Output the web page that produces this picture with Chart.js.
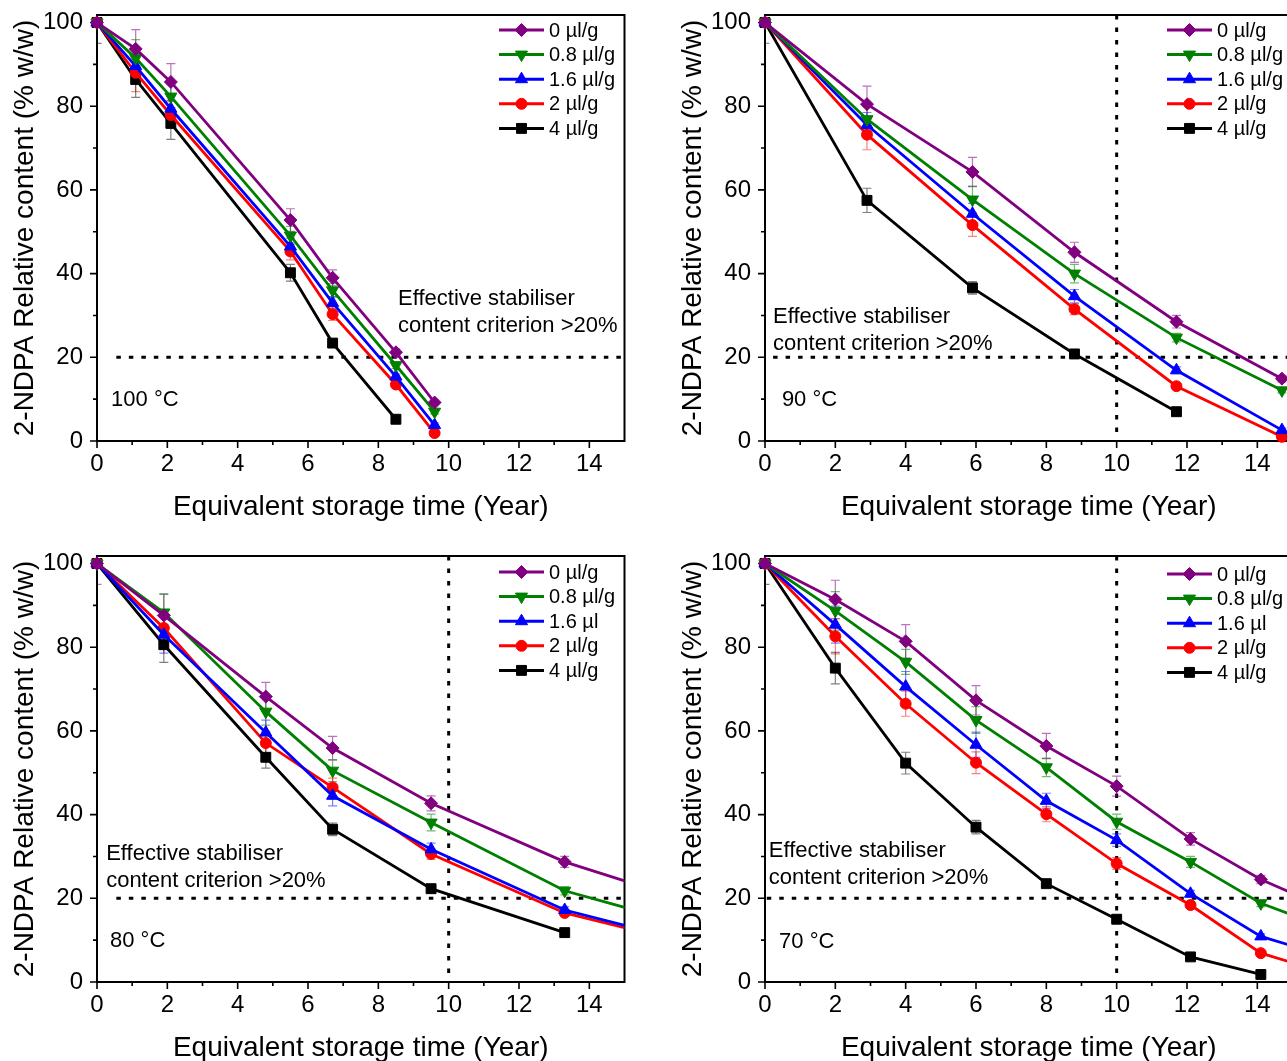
<!DOCTYPE html>
<html>
<head>
<meta charset="utf-8">
<script src="https://cdn.jsdelivr.net/npm/chart.js@4.4.1/dist/chart.umd.min.js"></script>
<style>
html, body { margin: 0; padding: 0; width: 1287px; height: 1061px; overflow: hidden; background: #fff; }
.panel { position: absolute; width: 640px; height: 530px; }
</style>
</head>
<body>
<div class="panel" style="left:0;top:0"><canvas id="g100" width="640" height="530"></canvas></div>
<div class="panel" style="left:668px;top:0"><canvas id="g90" width="640" height="530"></canvas></div>
<div class="panel" style="left:0;top:541px"><canvas id="g80" width="640" height="530"></canvas></div>
<div class="panel" style="left:668px;top:541px"><canvas id="g70" width="640" height="530"></canvas></div>
<script>
// tick labels
const xTickValues = [0, 2, 4, 6, 8, 10, 12, 14];
const yTickValues = [0, 20, 40, 60, 80, 100];
const labelsA = ['0 µl/g', '0.8 µl/g', '1.6 µl/g', '2 µl/g', '4 µl/g'];
const labelsB = ['0 µl/g', '0.8 µl/g', '1.6 µl', '2 µl/g', '4 µl/g'];

// 100 °C
const t100 = [0, 1.1, 2.1, 5.5, 6.7, 8.5, 9.6];
const c100_0 = [100, 93.7, 85.8, 52.8, 39.0, 21.2, 9.2];
const c100_08 = [100, 91.5, 82.3, 49.1, 36.0, 18.1, 7.0];
const c100_16 = [100, 89.6, 79.4, 46.5, 33.0, 15.4, 3.8];
const c100_2 = [100, 88.0, 77.9, 45.3, 30.3, 13.5, 1.9];
const c100_4 = [100, 86.4, 75.9, 40.2, 23.4, 5.2, null];
const e100_0 = [0, 4.6, 4.4, 2.7, 1.9, 0.8, 0.6];
const e100_08 = [0, 4.4, 3.0, 2.2, 1.6, 0.8, 0.6];
const e100_16 = [0, 3.0, 3.0, 2.0, 1.5, 0.6, 0.5];
const e100_2 = [0, 4.5, 3.2, 2.0, 1.5, 0.6, 0.5];
const e100_4 = [5, 4.3, 3.8, 2.0, 1.0, 0.5, 0];

// 90 °C
const t90 = [0, 2.9, 5.9, 8.8, 11.7, 14.7];
const c90_0 = [100, 80.5, 64.3, 45.1, 28.5, 14.9];
const c90_08 = [100, 76.9, 57.7, 40.0, 24.7, 12.1];
const c90_16 = [100, 75.5, 54.3, 34.6, 16.9, 2.6];
const c90_2 = [100, 73.2, 51.6, 31.5, 13.1, 1.0];
const c90_4 = [100, 57.5, 36.6, 20.8, 7.0, null];
const e90_0 = [5, 4.3, 3.5, 2.4, 1.5, 0.8];
const e90_08 = [0, 3.0, 3.2, 2.2, 1.0, 0.6];
const e90_16 = [0, 3.0, 2.5, 1.6, 0.8, 0.5];
const e90_2 = [0, 3.6, 2.7, 1.3, 0.8, 0.5];
const e90_4 = [0, 2.9, 1.5, 0.6, 0.5, 0];

// 80 °C (last column lies past the axis end)
const t80 = [0, 1.9, 4.8, 6.7, 9.5, 13.3, 17.1];
const c80_0 = [100, 87.6, 68.2, 55.9, 42.7, 28.7, 18.6];
const c80_08 = [100, 88.3, 64.6, 50.5, 38.1, 21.8, 12.9];
const c80_16 = [100, 83.0, 59.6, 44.5, 31.7, 17.2, 9.0];
const c80_2 = [100, 84.6, 57.1, 46.5, 30.6, 16.5, 8.6];
const c80_4 = [100, 80.6, 53.7, 36.5, 22.3, 11.8, null];
const e80_0 = [5, 5.0, 3.4, 2.8, 1.8, 1.3, 0];
const e80_08 = [0, 4.5, 3.2, 2.6, 2.0, 1.0, 0];
const e80_16 = [0, 4.4, 3.0, 2.4, 1.5, 0.8, 0];
const e80_2 = [0, 3.5, 2.8, 2.2, 1.3, 0.8, 0];
const e80_4 = [0, 4.2, 2.6, 1.5, 0.6, 0.5, 0];

// 70 °C (last column lies past the axis end)
const t70 = [0, 2.0, 4.0, 6.0, 8.0, 10.0, 12.1, 14.1, 16.1];
const c70_0 = [100, 91.4, 81.4, 67.3, 56.4, 46.8, 34.2, 24.5, 17.2];
const c70_08 = [100, 88.7, 76.5, 62.6, 51.3, 38.3, 28.7, 18.8, 12.6];
const c70_16 = [100, 85.4, 70.6, 56.7, 43.3, 33.9, 21.1, 10.9, 5.8];
const c70_2 = [100, 82.6, 66.5, 52.4, 40.1, 28.3, 18.4, 6.9, 1.8];
const c70_4 = [100, 75.0, 52.3, 37.0, 23.5, 15.0, 6.0, 1.8, null];
const e70_0 = [0, 4.6, 4.0, 3.5, 3.0, 2.4, 1.5, 1.0, 0];
const e70_08 = [0, 4.6, 3.0, 3.2, 2.2, 1.8, 1.3, 0.8, 0];
const e70_16 = [0, 4.4, 3.6, 3.0, 1.8, 1.5, 0.8, 0.6, 0];
const e70_2 = [0, 4.2, 3.0, 2.6, 1.8, 1.4, 0.8, 0.6, 0];
const e70_4 = [5, 3.75, 2.6, 1.6, 0.8, 0.6, 0.5, 0.5, 0];

// series looks
const seriesColors = ['#800080', '#008000', '#0000ff', '#ff0000', '#000000'];
const errColors = ['rgba(128,0,128,0.55)', 'rgba(0,128,0,0.55)', 'rgba(0,0,255,0.5)', 'rgba(255,0,0,0.5)', 'rgba(0,0,0,0.5)'];
const seriesPoints = ['rectRot', 'triangle', 'triangle', 'circle', 'rect'];
const seriesRot = [0, 180, 0, 0, 0];
const seriesRadius = [6.5, 7, 7, 5.5, 7];
const FONT = "'Liberation Sans', Arial, sans-serif";

const panels = [
  { id: 'g100', temp: '100 °C', x: t100, ys: [c100_0, c100_08, c100_16, c100_2, c100_4],
    errs: [e100_0, e100_08, e100_16, e100_2, e100_4], labels: labelsA,
    vline: false, hStart: 0.55, note: [8.56, 33.9, 27.5], tempAt: [0.40, 9.7], legendTop: 30 },
  { id: 'g90', temp: '90 °C', x: t90, ys: [c90_0, c90_08, c90_16, c90_2, c90_4],
    errs: [e90_0, e90_08, e90_16, e90_2, e90_4], labels: labelsA,
    vline: true, hStart: 0.23, note: [0.23, 29.6, 23.2], tempAt: [0.48, 9.7], legendTop: 30 },
  { id: 'g80', temp: '80 °C', x: t80, ys: [c80_0, c80_08, c80_16, c80_2, c80_4],
    errs: [e80_0, e80_08, e80_16, e80_2, e80_4], labels: labelsB,
    vline: true, hStart: 0.55, note: [0.26, 30.6, 24.1], tempAt: [0.37, 9.75], legendTop: 31 },
  { id: 'g70', temp: '70 °C', x: t70, ys: [c70_0, c70_08, c70_16, c70_2, c70_4],
    errs: [e70_0, e70_08, e70_16, e70_2, e70_4], labels: labelsB,
    vline: true, hStart: 0.05, note: [0.11, 31.3, 24.8], tempAt: [0.40, 9.5], legendTop: 33 }
];

function drawMarker(ctx, style, rot, r, x, y, color) {
  ctx.save();
  ctx.fillStyle = color;
  ctx.strokeStyle = color;
  ctx.lineWidth = 1;
  ctx.beginPath();
  if (style === 'circle') {
    ctx.arc(x, y, r, 0, Math.PI * 2);
  } else if (style === 'rect') {
    const s = r * Math.SQRT1_2;
    ctx.rect(x - s, y - s, 2 * s, 2 * s);
  } else if (style === 'rectRot') {
    ctx.moveTo(x - r, y); ctx.lineTo(x, y - r); ctx.lineTo(x + r, y); ctx.lineTo(x, y + r);
    ctx.closePath();
  } else {
    let a = rot * Math.PI / 180;
    ctx.moveTo(x + Math.sin(a) * r, y - Math.cos(a) * r);
    for (let k = 0; k < 2; k++) {
      a += 2 * Math.PI / 3;
      ctx.lineTo(x + Math.sin(a) * r, y - Math.cos(a) * r);
    }
    ctx.closePath();
  }
  ctx.fill();
  ctx.stroke();
  ctx.restore();
}

const panelDecor = {
  id: 'panelDecor',
  beforeDatasetsDraw(chart, args, opts) {
    const { ctx, chartArea: a, scales: { x, y } } = chart;
    ctx.save();
    ctx.beginPath();
    ctx.rect(a.left, a.top, a.right - a.left, a.bottom - a.top);
    ctx.clip();
    // criterion lines
    ctx.strokeStyle = '#000';
    ctx.lineWidth = 3;
    ctx.setLineDash([4.5, 8]);
    ctx.beginPath();
    ctx.moveTo(x.getPixelForValue(opts.hStart), y.getPixelForValue(20));
    ctx.lineTo(a.right, y.getPixelForValue(20));
    if (opts.vline) {
      ctx.moveTo(x.getPixelForValue(10), a.top);
      ctx.lineTo(x.getPixelForValue(10), a.bottom);
    }
    ctx.stroke();
    ctx.setLineDash([]);
    // error bars
    ctx.lineWidth = 1.2;
    chart.data.datasets.forEach((ds, i) => {
      ctx.strokeStyle = errColors[i];
      ds.data.forEach((p, j) => {
        const e = ds.errorBars[j];
        if (!e) return;
        const px = x.getPixelForValue(p.x);
        const y1 = y.getPixelForValue(p.y + e);
        const y2 = y.getPixelForValue(p.y - e);
        ctx.beginPath();
        ctx.moveTo(px, y1); ctx.lineTo(px, y2);
        ctx.moveTo(px - 4.5, y1); ctx.lineTo(px + 4.5, y1);
        ctx.moveTo(px - 4.5, y2); ctx.lineTo(px + 4.5, y2);
        ctx.stroke();
      });
    });
    ctx.restore();

    // notes
    ctx.save();
    ctx.fillStyle = '#000';
    ctx.font = '22px ' + FONT;
    ctx.textAlign = 'left';
    ctx.textBaseline = 'middle';
    const nx = x.getPixelForValue(opts.note[0]);
    ctx.fillText('Effective stabiliser', nx, y.getPixelForValue(opts.note[1]));
    ctx.fillText('content criterion >20%', nx, y.getPixelForValue(opts.note[2]));
    ctx.fillText(opts.temp, x.getPixelForValue(opts.tempAt[0]), y.getPixelForValue(opts.tempAt[1]));
    ctx.restore();

    // frame and ticks
    ctx.save();
    ctx.strokeStyle = '#000';
    ctx.lineWidth = 2;
    ctx.strokeRect(a.left, a.top, a.right - a.left, a.bottom - a.top);
    ctx.lineWidth = 1.6;
    ctx.beginPath();
    for (let v = 1; v <= 14; v++) {
      const px = x.getPixelForValue(v);
      const len = v % 2 === 0 ? 7 : 4;
      ctx.moveTo(px, a.bottom); ctx.lineTo(px, a.bottom + len);
    }
    ctx.moveTo(a.left, a.bottom); ctx.lineTo(a.left, a.bottom + 7);
    for (let v = 0; v <= 100; v += 10) {
      const py = y.getPixelForValue(v);
      const len = v % 20 === 0 ? 7 : 4;
      ctx.moveTo(a.left, py); ctx.lineTo(a.left - len, py);
    }
    ctx.stroke();
    ctx.restore();
  },
  afterDraw(chart, args, opts) {
    const { ctx } = chart;
    const lx = 499;
    ctx.save();
    ctx.font = '20px ' + FONT;
    ctx.textBaseline = 'middle';
    ctx.textAlign = 'left';
    chart.data.datasets.forEach((ds, i) => {
      const ry = opts.legendTop + i * 24.6;
      ctx.strokeStyle = seriesColors[i];
      ctx.lineWidth = 3;
      ctx.beginPath();
      ctx.moveTo(lx, ry); ctx.lineTo(lx + 45, ry);
      ctx.stroke();
      drawMarker(ctx, seriesPoints[i], seriesRot[i], seriesRadius[i], lx + 22.5, ry, seriesColors[i]);
      ctx.fillStyle = '#000';
      ctx.fillText(ds.label, lx + 50, ry + 1);
    });
    ctx.restore();
  }
};

panels.forEach(p => {
  const datasets = p.ys.map((vals, i) => {
    const pts = [];
    const eb = [];
    vals.forEach((v, j) => {
      if (v === null) return;
      pts.push({ x: p.x[j], y: v });
      eb.push(p.errs[i][j]);
    });
    return {
      label: p.labels[i],
      data: pts,
      errorBars: eb,
      showLine: true,
      borderColor: seriesColors[i],
      backgroundColor: seriesColors[i],
      borderWidth: 2.8,
      pointStyle: seriesPoints[i],
      rotation: seriesRot[i],
      pointRadius: seriesRadius[i],
      pointHoverRadius: seriesRadius[i],
      pointBorderWidth: 1,
      tension: 0,
      clip: { left: 12, top: 12, right: 0, bottom: 12 }
    };
  });

  new Chart(document.getElementById(p.id), {
    type: 'scatter',
    data: { datasets: datasets },
    plugins: [panelDecor],
    options: {
      responsive: false,
      animation: false,
      events: [],
      layout: { padding: { left: 0, top: 15, right: 15.5, bottom: 0 } },
      plugins: {
        legend: { display: false },
        tooltip: { enabled: false },
        panelDecor: {
          temp: p.temp, vline: p.vline, hStart: p.hStart, note: p.note,
          tempAt: p.tempAt, legendTop: p.legendTop
        }
      },
      scales: {
        x: {
          type: 'linear',
          min: 0,
          max: 15,
          afterBuildTicks: s => { s.ticks = xTickValues.map(v => ({ value: v })); },
          afterFit: s => { s.height = 89; s.paddingLeft = 0; s.paddingRight = 0; },
          grid: { display: false, drawTicks: false },
          border: { display: false },
          ticks: { color: '#000', font: { family: FONT, size: 24 }, padding: 9, maxRotation: 0, autoSkip: false },
          title: {
            display: true,
            text: 'Equivalent storage time (Year)',
            color: '#000',
            font: { family: FONT, size: 28 },
            padding: { top: 0, bottom: 6 }
          }
        },
        y: {
          type: 'linear',
          min: 0,
          max: 101.8,
          afterBuildTicks: s => { s.ticks = yTickValues.map(v => ({ value: v })); },
          afterFit: s => { s.width = 97; s.paddingTop = 0; s.paddingBottom = 0; },
          grid: { display: false, drawTicks: false },
          border: { display: false },
          ticks: { color: '#000', font: { family: FONT, size: 24 }, padding: 14 },
          title: {
            display: true,
            text: '2-NDPA Relative content (% w/w)',
            color: '#000',
            font: { family: FONT, size: 28 },
            padding: { top: 8, bottom: 0 }
          }
        }
      }
    }
  });
});
</script>
</body>
</html>
